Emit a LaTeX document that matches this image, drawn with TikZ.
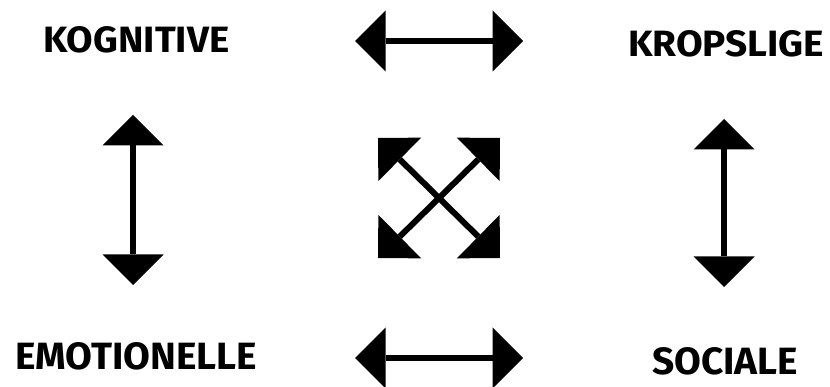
\documentclass[tikz,border=0pt]{standalone}
\usepackage{fontspec}
\usetikzlibrary{arrows.meta}
\newfontfamily\labelfont{Fira Sans}
\tikzset{
  lbl/.style={inner sep=0pt, anchor=south west, font=\labelfont\bfseries},
  dblarrow/.style={line width=6pt, {Triangle[length=30.5pt,width=61pt,line width=0pt]}-{Triangle[length=30.5pt,width=61pt,line width=0pt]}}
}
\begin{document}
\begin{tikzpicture}[x=1pt,y=-1pt]
\useasboundingbox (0,0) rectangle (830,387);
% labels
\node[lbl] (kog) at (43,53) {\resizebox{186pt}{26pt}{KOGNITIVE}};
\node[lbl] (krop) at (628,57) {\resizebox{196pt}{26pt}{KROPSLIGE}};
\node[lbl] (emo) at (15,370) {\resizebox{242pt}{27pt}{EMOTIONELLE}};
\node[lbl] (soc) at (652,375) {\resizebox{146pt}{27pt}{SOCIALE}};
% arrow end points
\coordinate (th1) at (355,41);
\coordinate (th2) at (523,41);
\coordinate (bh1) at (355,358);
\coordinate (bh2) at (523,358);
\coordinate (lv1) at (133,115);
\coordinate (lv2) at (133,285);
\coordinate (rv1) at (724,119);
\coordinate (rv2) at (724,287);
\coordinate (tl) at (378,138);
\coordinate (tr) at (500,138);
\coordinate (bl) at (378,258);
\coordinate (br) at (500,258);
% arrows
\draw[dblarrow] (th1) -- (th2);
\draw[dblarrow] (bh1) -- (bh2);
\draw[dblarrow] (lv1) -- (lv2);
\draw[dblarrow] (rv1) -- (rv2);
\draw[dblarrow] (tl) -- (br);
\draw[dblarrow] (tr) -- (bl);
\end{tikzpicture}
\end{document}
